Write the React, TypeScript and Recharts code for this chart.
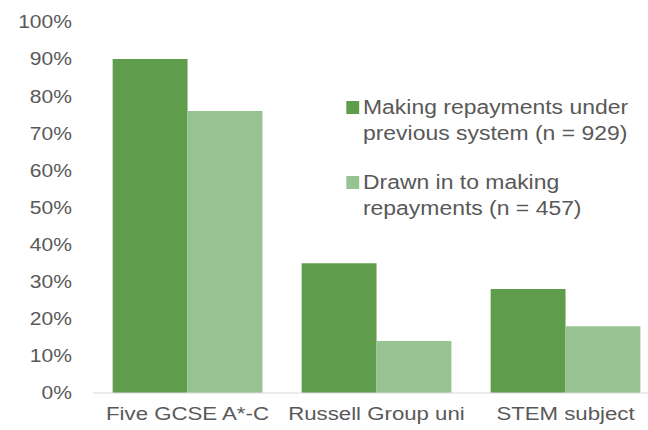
import React from "react";
import { BarChart, Bar, XAxis, YAxis } from "recharts";

const categories = ["Five GCSE A*-C", "Russell Group uni", "STEM subject"];
const previousSystem = [90, 35, 28];
const drawnIn = [76, 14, 18];
const yTicks = [0, 10, 20, 30, 40, 50, 60, 70, 80, 90, 100];
const seriesNames = [
  "Making repayments under previous system (n = 929)",
  "Drawn in to making repayments (n = 457)",
];

const DARK = "#5f9c4b";
const LIGHT = "#97c393";
const TEXT = "#595959";
const FONT = "'Liberation Sans', Arial, sans-serif";
const SX = 1.17;

const data = categories.map((c, i) => ({
  name: c,
  prev: previousSystem[i],
  drawn: drawnIn[i],
}));

const LegendBox = () => {
  const items = [
    { label: seriesNames[0], color: DARK },
    { label: seriesNames[1], color: LIGHT },
  ];
  return (
    <div
      style={{
        position: "absolute",
        left: 346 / SX,
        top: 94,
        fontFamily: FONT,
        color: TEXT,
        fontSize: 19.6,
        lineHeight: "26px",
      }}
    >
      {items.map((it, i) => (
        <div key={i} style={{ display: "flex", alignItems: "flex-start", marginBottom: i === 0 ? 23 : 0 }}>
          <div style={{ width: 13 / SX, height: 13, background: it.color, marginTop: 7, marginRight: 4 / SX, flexShrink: 0 }} />
          <div style={{ width: 240 }}>{it.label}</div>
        </div>
      ))}
    </div>
  );
};

export default function App() {
  return (
    <div style={{ position: "absolute", left: 0, top: 0, width: 648, height: 430, overflow: "hidden", background: "#fff" }}>
      <div style={{ position: "absolute", left: 0, top: 0, width: 648 / SX, height: 430, transform: `scaleX(${SX})`, transformOrigin: "0 0" }}>
        <BarChart
          width={580}
          height={430}
          data={data}
          margin={{ top: 22, right: 580 - 660 / SX, bottom: 0, left: 0 }}
          barGap={0}
          barCategoryGap="10.4%"
        >
          <XAxis
            dataKey="name"
            height={37}
            tickLine={false}
            tickSize={0}
            tickMargin={14}
            axisLine={{ stroke: "#d9d9d9", strokeWidth: 1 }}
            tick={{ fill: TEXT, fontSize: 19, fontFamily: FONT }}
            interval={0}
          />
          <YAxis
            width={93 / SX}
            domain={[0, 100]}
            ticks={yTicks}
            tickFormatter={(v) => `${v}%`}
            axisLine={false}
            tickLine={false}
            tickSize={0}
            tickMargin={21 / SX}
            tick={{ fill: TEXT, fontSize: 18, fontFamily: FONT }}
            interval={0}
          />
          <Bar dataKey="prev" name={seriesNames[0]} fill={DARK} isAnimationActive={false} />
          <Bar dataKey="drawn" name={seriesNames[1]} fill={LIGHT} isAnimationActive={false} />
        </BarChart>
        <LegendBox />
      </div>
    </div>
  );
}
